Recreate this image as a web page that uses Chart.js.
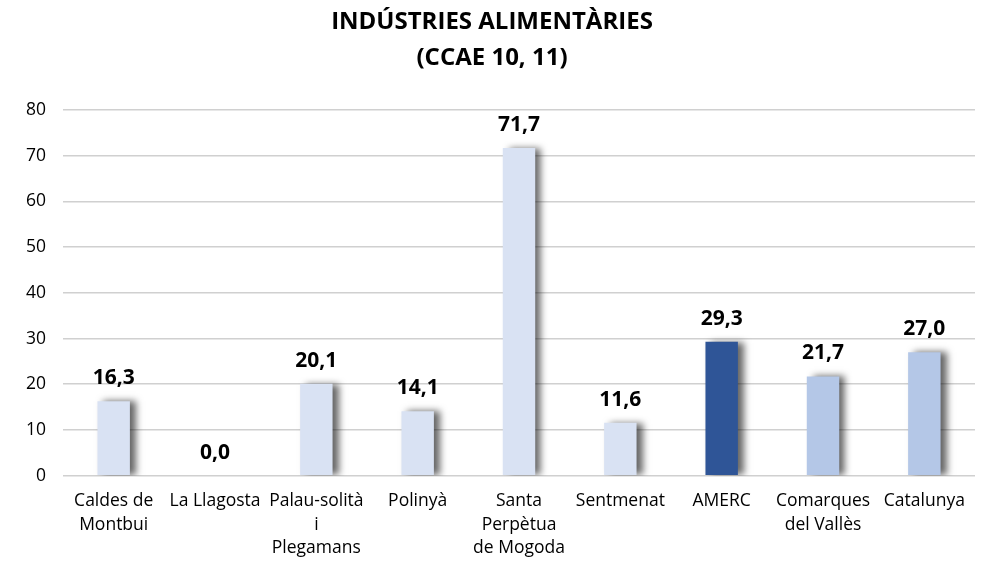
<!DOCTYPE html>
<html>
<head>
<meta charset="utf-8">
<script src="https://cdn.jsdelivr.net/npm/chart.js@4"></script>
<style>
  html, body { margin: 0; padding: 0; background: #fff; }
  #wrap { width: 987px; height: 566px; position: relative; }
</style>
</head>
<body>
<div id="wrap"><canvas id="chart"></canvas></div>
<script>
// Dades del gràfic
const categories = [
    ['Caldes de', 'Montbui'],
    'La Llagosta',
    ['Palau-solità', 'i', 'Plegamans'],
    'Polinyà',
    ['Santa', 'Perpètua', 'de Mogoda'],
    'Sentmenat',
    'AMERC',
    ['Comarques', 'del Vallès'],
    'Catalunya'
];
const values = [16.3, 0.0, 20.1, 14.1, 71.7, 11.6, 29.3, 21.7, 27.0];
const barColors = [
    '#D9E2F3', '#D9E2F3', '#D9E2F3', '#D9E2F3', '#D9E2F3', '#D9E2F3',
    '#2F5597', '#B4C7E7', '#B4C7E7'
];
const yTicks = [0, 10, 20, 30, 40, 50, 60, 70, 80];

const fontFamily = "'Open Sans', 'Noto Sans', sans-serif";

// ombra de les barres
const shadowPlugin = {
    id: 'barShadow',
    beforeDatasetsDraw(chart) {
        const ctx = chart.ctx;
        ctx.save();
        ctx.shadowColor = 'rgba(0, 0, 0, 0.6)';
        ctx.shadowBlur = 7;
        ctx.shadowOffsetX = 6;
        ctx.shadowOffsetY = 0;
    },
    afterDatasetsDraw(chart) {
        chart.ctx.restore();
    }
};

// etiquetes de valor
const valueLabels = {
    id: 'valueLabels',
    afterDatasetsDraw(chart) {
        const ctx = chart.ctx;
        const meta = chart.getDatasetMeta(0);
        ctx.save();
        ctx.font = 'bold 21px ' + fontFamily;
        ctx.fillStyle = '#000';
        ctx.textAlign = 'center';
        ctx.textBaseline = 'middle';
        meta.data.forEach((bar, i) => {
            const txt = values[i].toFixed(1).replace('.', ',');
            ctx.fillText(txt, bar.x, bar.y - 23);
        });
        ctx.restore();
    }
};

new Chart(document.getElementById('chart'), {
    type: 'bar',
    data: {
        labels: categories,
        datasets: [{
            data: values,
            backgroundColor: barColors,
            borderWidth: 0,
            categoryPercentage: 1.0,
            barPercentage: 0.32
        }]
    },
    options: {
        responsive: true,
        maintainAspectRatio: false,
        animation: false,
        layout: {
            padding: { left: 9, right: 12, top: 0, bottom: 0 }
        },
        plugins: {
            legend: { display: false },
            tooltip: { enabled: false },
            title: {
                display: true,
                text: ['INDÚSTRIES ALIMENTÀRIES', '(CCAE 10, 11)'],
                color: '#000',
                font: { family: fontFamily, size: 24, weight: 'bold', lineHeight: 1.5 },
                padding: { top: 4, bottom: 34 }
            }
        },
        scales: {
            x: {
                grid: { display: false },
                border: { display: false },
                ticks: {
                    color: '#000',
                    font: { family: fontFamily, size: 17.5, lineHeight: 1.34 },
                    maxRotation: 0,
                    autoSkip: false,
                    padding: 6
                }
            },
            y: {
                min: 0,
                max: 80,
                afterBuildTicks(axis) {
                    axis.ticks = yTicks.map(v => ({ value: v }));
                },
                grid: { color: '#D0D0D0', lineWidth: 1.5, drawTicks: false },
                border: { display: false },
                ticks: {
                    color: '#000',
                    font: { family: fontFamily, size: 17.5 },
                    padding: 17
                }
            }
        }
    },
    plugins: [shadowPlugin, valueLabels]
});
</script>
</body>
</html>
